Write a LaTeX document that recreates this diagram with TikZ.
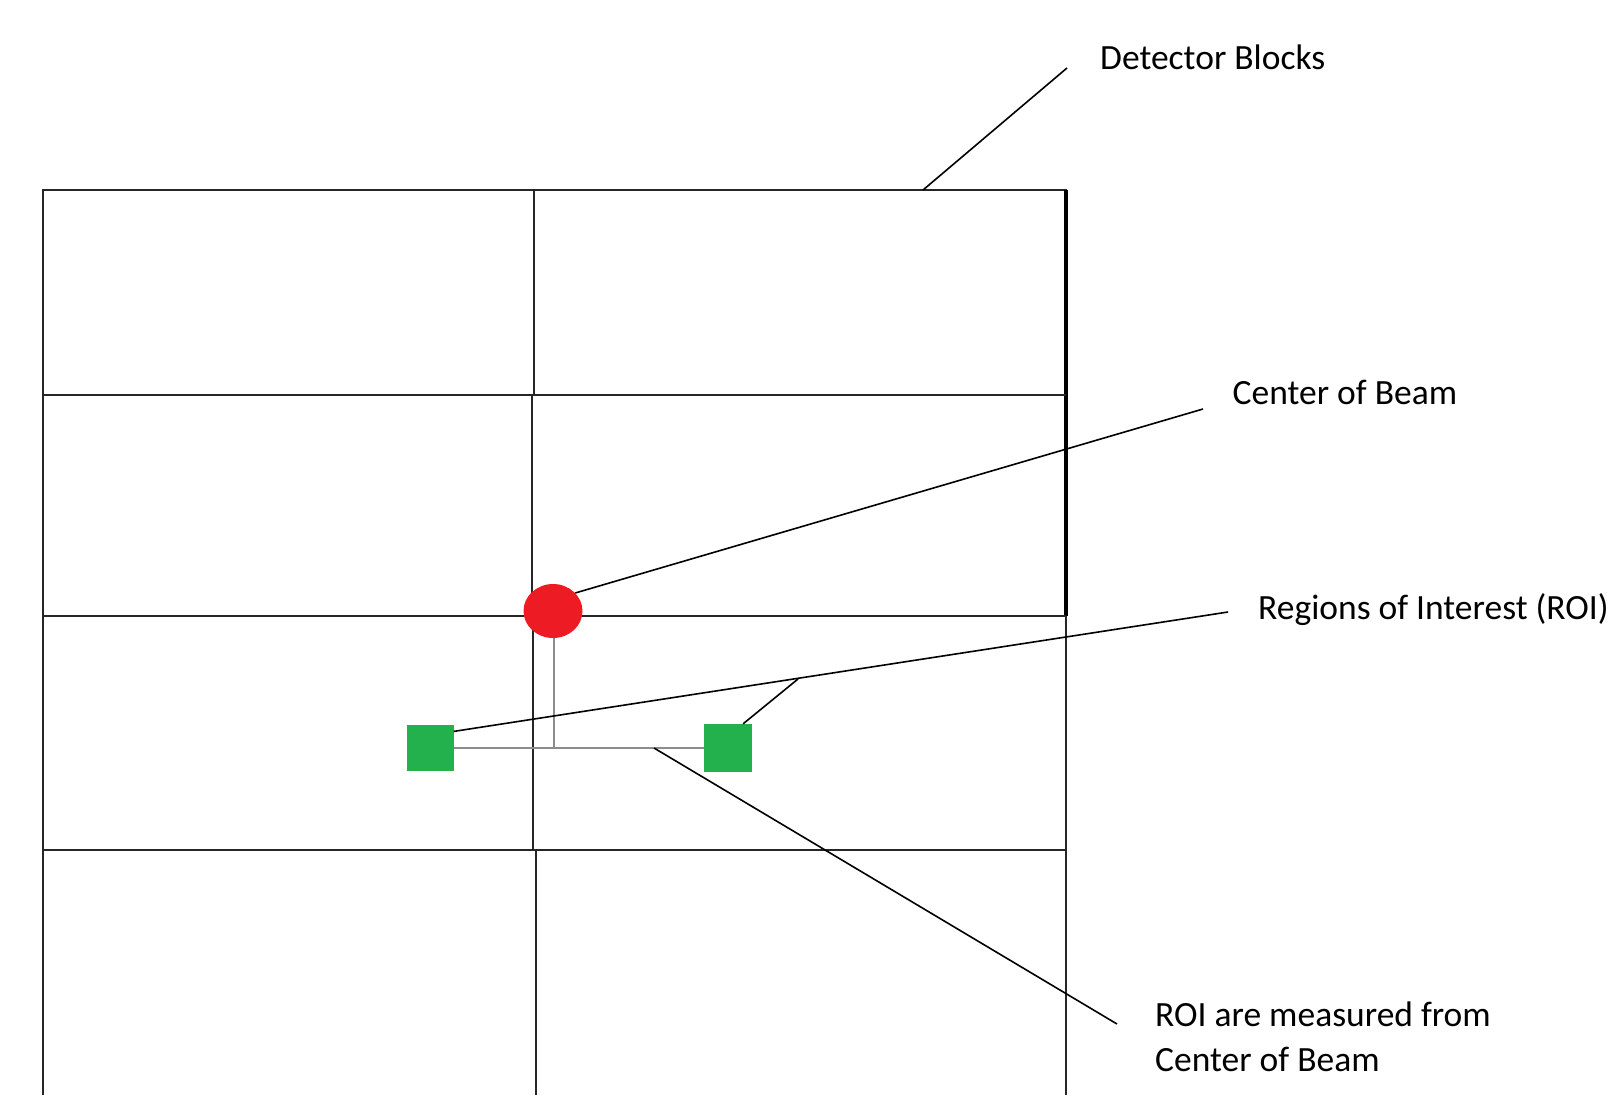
\documentclass[tikz,border=0pt]{standalone}
\usepackage{fontspec}
\setmainfont{Carlito}
\usetikzlibrary{shapes.geometric}
\definecolor{beamred}{HTML}{ED1C24}
\definecolor{roigreen}{HTML}{22B14C}
\definecolor{measgray}{HTML}{8C8C8C}
\begin{document}
\begin{tikzpicture}[x=1pt,y=-1pt,
  gridline/.style={line width=2pt,draw=black!85},
  thickborder/.style={line width=3.5pt,draw=black},
  conn/.style={line width=1.6pt,draw=black},
  measline/.style={line width=2pt,draw=measgray},
  lbl/.style={anchor=base west,inner sep=0pt,font=\fontsize{35.5}{45}\selectfont,align=left},
  roibox/.style={rectangle,fill=roigreen,minimum width=47pt,minimum height=46pt,inner sep=0pt},
]
\useasboundingbox (0,0) rectangle (1613,1095);
% grid of detector blocks
\draw[gridline] (43,1095) -- (43,190) -- (1067,190);
\draw[thickborder] (1066,190) -- (1066,616);
\draw[gridline] (1065.7,616) -- (1065.7,1095);
\draw[gridline] (43,395) -- (1066,395);
\draw[gridline] (43,616) -- (1066,616);
\draw[gridline] (43,850) -- (1066,850);
\draw[gridline] (534,190) -- (534,395);
\draw[gridline] (532,395) -- (532,616);
\draw[gridline] (533.3,616) -- (533.3,850);
\draw[gridline] (536,850) -- (536,1095);
% beam and ROI
\node[ellipse,fill=beamred,minimum width=59pt,minimum height=54pt,inner sep=0pt] (beam) at (553,611) {};
\node[roibox] (roiL) at (430,748) {};
\node[roibox,minimum width=48pt,minimum height=48pt] (roiR) at (728,748) {};
\coordinate (corner) at (553.7,748);
\draw[measline] (553.7,638) -- (corner);
\draw[measline] (roiL.east) -- (roiR.west);
% labels
\node[lbl] (detlbl) at (1100,69) {Detector Blocks};
\node[lbl] (coblbl) at (1232.5,404) {Center of Beam};
\node[lbl] (roilbl) at (1258,619) {Regions of Interest (ROI)};
\node[lbl] (measlbl) at (1155,1071.7) {ROI are measured from\\Center of Beam};
% connectors
\coordinate (detfoot) at (923,190);
\coordinate (dettip) at (1067,68);
\coordinate (cobtip) at (1203,409);
\coordinate (roitip) at (1228,612);
\coordinate (roibranch) at (798,679);
\coordinate (measfoot) at (654,748);
\coordinate (meastip) at (1117,1024);
\draw[conn] (detfoot) -- (dettip);
\draw[conn] (beam.39) -- (cobtip);
\draw[conn] (roiL.35) -- (roitip);
\draw[conn] (roiR.58) -- (roibranch);
\draw[conn] (measfoot) -- (meastip);
\end{tikzpicture}
\end{document}
